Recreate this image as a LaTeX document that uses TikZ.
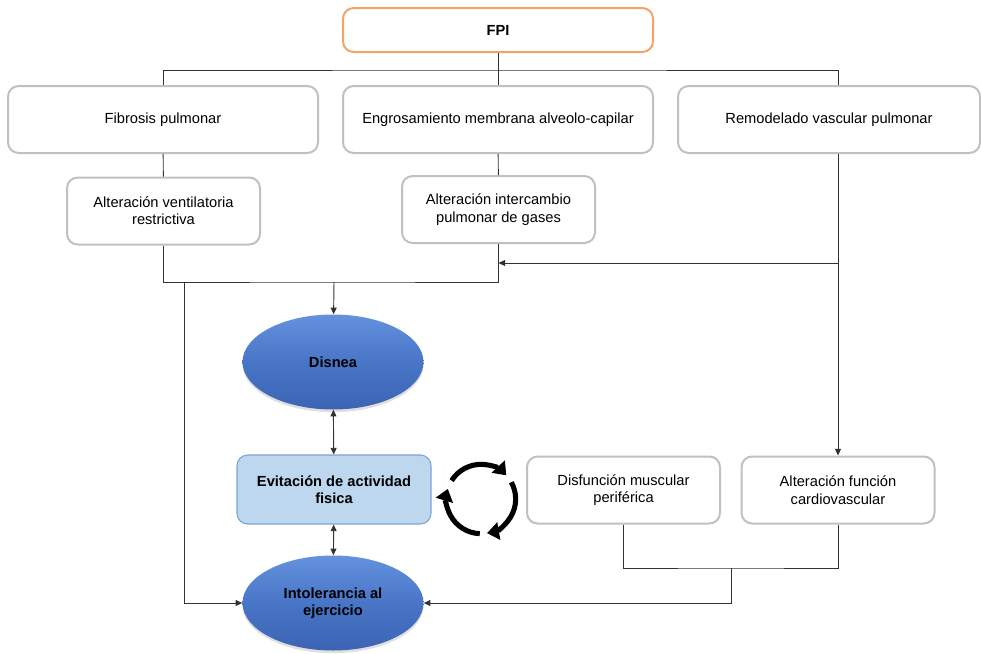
\documentclass[tikz,border=0pt]{standalone}
\usepackage{fontspec}
\setmainfont{Liberation Sans}
\usetikzlibrary{arrows.meta,shapes.geometric,shadows}

\definecolor{cajagris}{RGB}{192,192,192}
\definecolor{naranja}{RGB}{244,162,104}
\definecolor{linea}{RGB}{50,50,50}
\definecolor{azulclaro}{RGB}{189,215,238}
\definecolor{azulborde}{RGB}{125,163,212}
\definecolor{elarriba}{RGB}{100,146,222}
\definecolor{elmedio}{RGB}{72,117,198}
\definecolor{elabajo}{RGB}{60,100,180}

\tikzset{
	texto/.style={font=\fontsize{11}{13}\selectfont, align=center},
	caja/.style={texto, draw=cajagris, line width=1.5pt, rounded corners=8pt, inner sep=2pt},
	ovalo/.style={texto, ellipse, inner sep=0pt, minimum width=135.75pt, minimum height=71.25pt,
		top color=elarriba, bottom color=elabajo, middle color=elmedio, font=\fontsize{11}{13}\selectfont\bfseries,
		drop shadow={opacity=0.25, shadow xshift=0pt, shadow yshift=-2pt}},
	conector/.style={draw=linea, line width=0.7pt},
	flecha/.style={conector, -{Triangle[length=5pt,width=4.5pt]}},
	dobleflecha/.style={conector, {Triangle[length=5pt,width=4.5pt]}-{Triangle[length=5pt,width=4.5pt]}},
	ciclo/.style={line width=3.8pt, -{Triangle[length=9pt,width=13pt]}}
}

\begin{document}
\begin{tikzpicture}[x=0.75pt, y=-0.75pt]
	\useasboundingbox (0,0) rectangle (981,653);
	% cajas superiores
	\node[caja, draw=naranja, minimum width=232.5pt, minimum height=33pt, font=\fontsize{11}{13}\selectfont\bfseries] (fpi) at (498,30) {FPI};
	\node[caja, minimum width=232.5pt, minimum height=50.25pt] (fib) at (163,119.5) {Fibrosis pulmonar};
	\node[caja, minimum width=232.5pt, minimum height=50.25pt] (eng) at (498,119.5) {Engrosamiento membrana alveolo-capilar};
	\node[caja, minimum width=226.5pt, minimum height=50.25pt] (rem) at (829,119.5) {Remodelado vascular pulmonar};
	\node[caja, minimum width=144.75pt, minimum height=50.25pt] (vent) at (163.5,211) {Alteración ventilatoria\\restrictiva};
	\node[caja, minimum width=144.75pt, minimum height=50.25pt] (inter) at (498.5,209.5) {Alteración intercambio\\pulmonar de gases};
	% centro
	\node[ovalo] (disnea) at (333,362) {Disnea};
	\node[caja, fill=azulclaro, draw=azulborde, line width=0.8pt, minimum width=145.5pt, minimum height=51.75pt, font=\fontsize{11}{13}\selectfont\bfseries] (evit) at (334,489.5) {Evitación de actividad\\fisica};
	\node[ovalo] (intol) at (333,603) {Intolerancia al\\ejercicio};
	\node[caja, minimum width=144.75pt, minimum height=50.25pt] (disf) at (623.5,490) {Disfunción muscular\\periférica};
	\node[caja, minimum width=144.75pt, minimum height=50.25pt] (card) at (838,490) {Alteración función\\cardiovascular};
	% puntos de union
	\coordinate (bus) at (498,70);
	\coordinate (remb) at (rem.south -| card.north);
	\coordinate (junta) at (334,282);
	\coordinate (jder) at (731,568);
	\coordinate (cyc) at (481,499);

	% conectores
	\draw[conector] (fpi) -- (bus);
	\draw[conector] (fib.north) |- (bus) -| (remb |- rem.north);
	\draw[conector] (bus) -- (eng);
	\draw[conector] (fib) -- (vent);
	\draw[conector] (eng) -- (inter);
	\draw[conector] (vent) |- (junta) -| (inter);
	\draw[flecha] (junta) -- (disnea);
	\draw[flecha] (vent.south |- junta) ++(21,0) |- (intol);
	\draw[flecha] (remb) -- (card);
	\draw[flecha] (remb |- 0,263) -- (inter.south |- 0,263);
	\draw[conector] (disf) |- (jder) -| (card);
	\draw[flecha] (jder) |- (intol);
	\draw[dobleflecha] (disnea) -- (evit);
	\draw[dobleflecha] (evit) -- (intol);

	% flechas circulares
	\draw[ciclo] (cyc) ++(148:26pt) arc[start angle=148, end angle=43, radius=26pt];
	\draw[ciclo] (cyc) ++(29:26pt) arc[start angle=29, end angle=-80, radius=26pt];
	\draw[ciclo] (cyc) ++(-92:26pt) arc[start angle=-92, end angle=-197, radius=26pt];
\end{tikzpicture}
\end{document}
